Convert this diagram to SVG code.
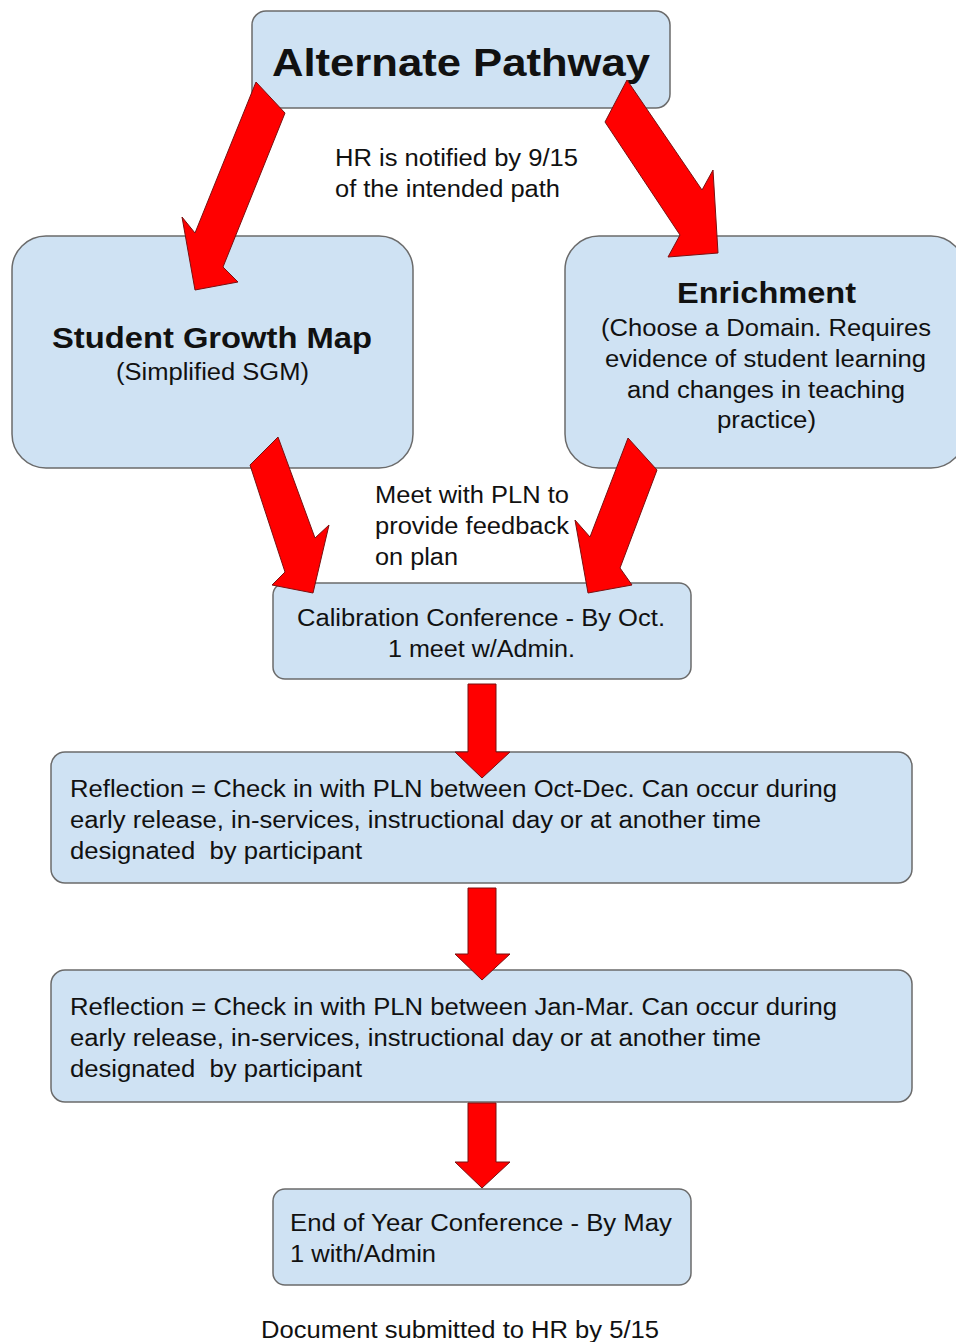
<svg xmlns="http://www.w3.org/2000/svg" width="956" height="1342" viewBox="0 0 956 1342">
<style>
.box{fill:#cfe2f3;stroke:#6b6b6b;stroke-width:1.5}
.arr{fill:#ff0000;stroke:#7a1010;stroke-width:1}
text{font-family:"Liberation Sans",Arial,sans-serif;fill:#111;font-size:23px}
.b{font-weight:bold;font-size:29px}
.t{font-weight:bold;font-size:39px}
</style>
<rect width="956" height="1342" fill="#fff"/>
<g id="n-alt">
<rect class="box" x="252" y="11" width="418" height="97" rx="14"/>
<text class="t" x="272" y="76" textLength="378" lengthAdjust="spacingAndGlyphs">Alternate Pathway</text>
</g>
<g id="n-hr">
<text x="335" y="166" textLength="243" lengthAdjust="spacingAndGlyphs">HR is notified by 9/15</text>
<text x="335" y="197" textLength="225" lengthAdjust="spacingAndGlyphs">of the intended path</text>
</g>
<g id="n-sgm">
<rect class="box" x="12" y="236" width="401" height="232" rx="34"/>
<text class="b" x="52" y="348" textLength="320" lengthAdjust="spacingAndGlyphs">Student Growth Map</text>
<text x="116" y="380" textLength="193" lengthAdjust="spacingAndGlyphs">(Simplified SGM)</text>
</g>
<g id="n-enr">
<rect class="box" x="565" y="236" width="400" height="232" rx="34"/>
<text class="b" x="677" y="303" textLength="179" lengthAdjust="spacingAndGlyphs">Enrichment</text>
<text x="601" y="336" textLength="330" lengthAdjust="spacingAndGlyphs">(Choose a Domain. Requires</text>
<text x="605" y="367" textLength="321" lengthAdjust="spacingAndGlyphs">evidence of student learning</text>
<text x="627" y="398" textLength="278" lengthAdjust="spacingAndGlyphs">and changes in teaching</text>
<text x="717" y="428" textLength="99" lengthAdjust="spacingAndGlyphs">practice)</text>
</g>
<g id="n-pln">
<text x="375" y="503" textLength="194" lengthAdjust="spacingAndGlyphs">Meet with PLN to</text>
<text x="375" y="534" textLength="194" lengthAdjust="spacingAndGlyphs">provide feedback</text>
<text x="375" y="565" textLength="83" lengthAdjust="spacingAndGlyphs">on plan</text>
</g>
<g id="n-cal">
<rect class="box" x="273" y="583" width="418" height="96" rx="12"/>
<text x="297" y="626" textLength="368" lengthAdjust="spacingAndGlyphs">Calibration Conference - By Oct.</text>
<text x="388" y="657" textLength="187" lengthAdjust="spacingAndGlyphs">1 meet w/Admin.</text>
</g>
<g id="n-ref1">
<rect class="box" x="51" y="752" width="861" height="131" rx="14"/>
<text x="70" y="797" textLength="767" lengthAdjust="spacingAndGlyphs">Reflection = Check in with PLN between Oct-Dec. Can occur during</text>
<text x="70" y="828" textLength="691" lengthAdjust="spacingAndGlyphs">early release, in-services, instructional day or at another time</text>
<text x="70" y="859" textLength="292" lengthAdjust="spacingAndGlyphs" xml:space="preserve">designated  by participant</text>
</g>
<g id="n-ref2">
<rect class="box" x="51" y="970" width="861" height="132" rx="14"/>
<text x="70" y="1015" textLength="767" lengthAdjust="spacingAndGlyphs">Reflection = Check in with PLN between Jan-Mar. Can occur during</text>
<text x="70" y="1046" textLength="691" lengthAdjust="spacingAndGlyphs">early release, in-services, instructional day or at another time</text>
<text x="70" y="1077" textLength="292" lengthAdjust="spacingAndGlyphs" xml:space="preserve">designated  by participant</text>
</g>
<g id="n-eoy">
<rect class="box" x="273" y="1189" width="418" height="96" rx="12"/>
<text x="290" y="1231" textLength="382" lengthAdjust="spacingAndGlyphs">End of Year Conference - By May</text>
<text x="290" y="1262" textLength="146" lengthAdjust="spacingAndGlyphs">1 with/Admin</text>
</g>
<g id="n-doc">
<text x="261" y="1338" textLength="398" lengthAdjust="spacingAndGlyphs">Document submitted to HR by 5/15</text>
</g>
<g id="connectors">
<polygon class="arr" points="256,82 285,113 223,267 238,282 195,290 182,217 195,233"/>
<polygon class="arr" points="627,80 702,190 713,170 718,253 668,257 680,235 605,122"/>
<polygon class="arr" points="278,437 315,538 329,525 313,593 272,585 285,572 250,465"/>
<polygon class="arr" points="628,438 657,470 620,568 632,585 588,593 575,520 590,537"/>
<polygon class="arr" points="468,684 496,684 496,752 510,752 482,778 455,752 468,752"/>
<polygon class="arr" points="468,888 496,888 496,954 510,954 482,980 455,954 468,954"/>
<polygon class="arr" points="468,1103 496,1103 496,1162 510,1162 482,1188 455,1162 468,1162"/>
</g>
</svg>
